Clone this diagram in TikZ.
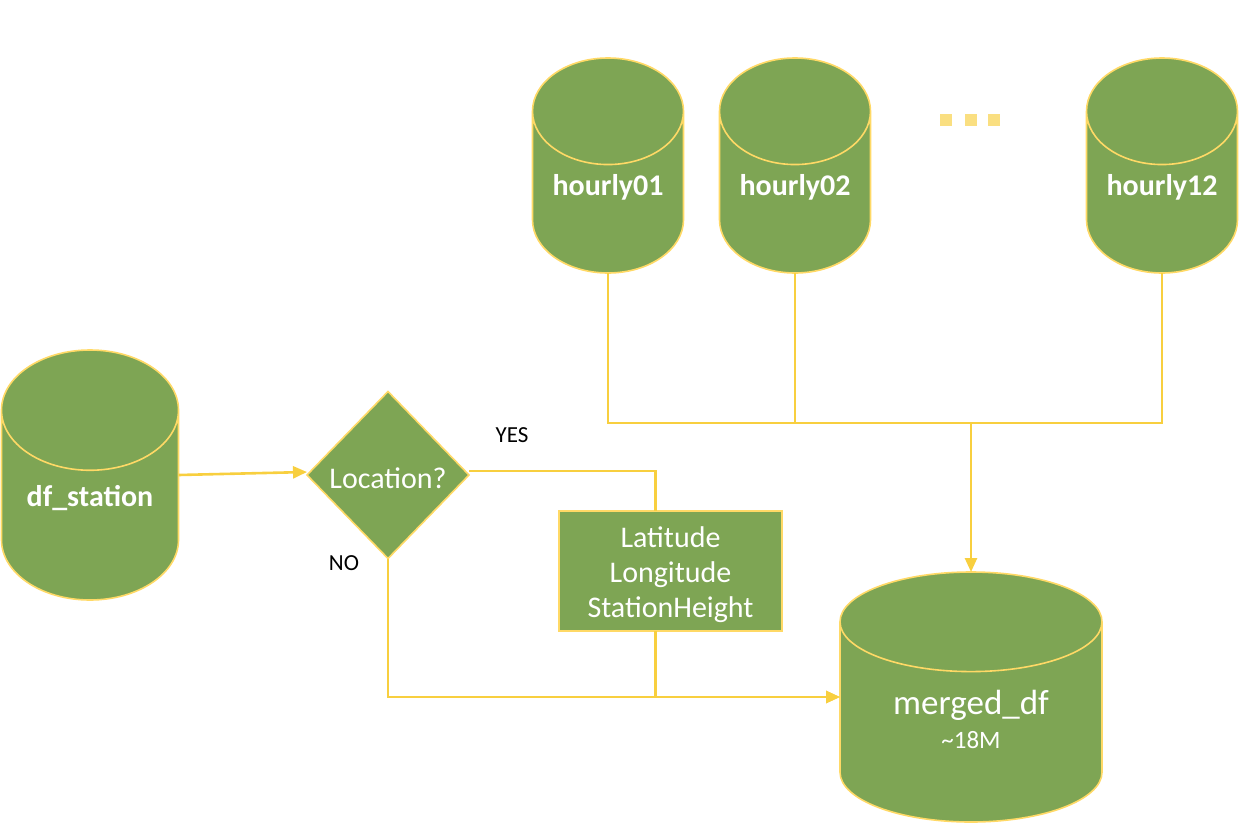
\documentclass[tikz,border=0pt]{standalone}
\usepackage{fontspec}
\setmainfont{Carlito}
\usepackage{xcolor}
\usetikzlibrary{arrows.meta, shapes.geometric, positioning}

\definecolor{dbgreen}{HTML}{7EA554}
\definecolor{dbedge}{HTML}{FFD966}
\definecolor{wire}{HTML}{F8CF3F}
\definecolor{dotfill}{HTML}{FADF81}

% lift or drop a cell's text inside its shape, keeping its size
\newcommand{\nudge}[2]{\raisebox{#1}[\height][\depth]{\begin{tabular}{@{}c@{}}#2\end{tabular}}}

\begin{document}
\begin{tikzpicture}[
  x=1pt, y=-1pt,
  db/.style = {
    cylinder, shape border rotate=90, anchor=shape center,
    draw=dbedge, fill=dbgreen, line width=1.6pt,
    text=white, inner sep=0pt, outer sep=0pt,
    font=\fontsize{30}{35}\selectfont\bfseries
  },
  hourly/.style = {db, minimum width=151pt, minimum height=215pt, aspect=0.96},
  decision/.style = {
    diamond, draw=dbedge, fill=dbgreen, line width=1.6pt,
    minimum width=162pt, minimum height=167pt, inner sep=0pt, outer sep=0pt,
    text=white, font=\fontsize{30}{34}\selectfont
  },
  attrbox/.style = {
    rectangle, draw=dbedge, fill=dbgreen, line width=1.6pt,
    minimum width=223pt, minimum height=120pt, inner sep=0pt, outer sep=0pt,
    text=white, font=\fontsize{30}{35}\selectfont
  },
  lbl/.style = {font=\fontsize{23}{25}\selectfont, text=black},
  dotsq/.style = {rectangle, fill=dotfill, minimum size=12pt, inner sep=0pt},
  line/.style = {draw=wire, line width=2.6pt},
  arr/.style = {line, -{Triangle[length=14pt,width=12pt]}}
]
\useasboundingbox (0,0) rectangle (1239,822);

% Hourly tables
\node[hourly] (h01) at (608,165.5) {\nudge{4pt}{hourly01}};
\node[hourly] (h02) at (795,165.5) {\nudge{4pt}{hourly02}};
\node[hourly] (h12) at (1162,165.5) {\nudge{4pt}{hourly12}};
\foreach \x [count=\i] in {946,971,994}
  \node[dotsq] (dot\i) at (\x,120) {};

% Station table and decision
\node[db, minimum width=177pt, minimum height=250pt, aspect=0.95]
  (station) at (90,475) {\nudge{6pt}{df\_station}};
\node[decision] (loc) at (388,475) {\nudge{-7pt}{Location?}};
\node[attrbox] (attrs) at (670.5,571)
  {\nudge{-4pt}{Latitude\\Longitude\\StationHeight}};

% Merged table
\node[db, minimum width=262pt, minimum height=250pt, aspect=0.64,
      font=\fontsize{35}{37}\selectfont] (merged) at (971,697)
  {\nudge{-2pt}{merged\_df\\[-3pt]{\fontsize{25}{26}\selectfont\textasciitilde 18M}}};

% Labels
\node[lbl] (yes) at (512,435) {YES};
\node[lbl] (no)  at (344,563) {NO};

% Hourly bus into merged
\coordinate (bus) at (971,423);
\draw[line] (h01.south) -- (h01.south |- bus) -- (h12.south |- bus) -- (h12.south);
\draw[line] (h02.south) -- (h02.south |- bus);
\draw[arr] (bus) -- (merged.north);

% Station through the decision
\draw[arr] (station.shape center -| station.east) -- ([yshift=3pt]loc.west);
\coordinate (yesdrop) at ([xshift=-15pt]attrs.north);
\draw[line] ([yshift=4pt]loc.east) -| (yesdrop);
\coordinate (mergein) at (merged.shape center -| merged.west);
\draw[arr] ([xshift=-15pt]attrs.south) |- (mergein);
\draw[arr] (loc.south) |- (mergein);
\end{tikzpicture}
\end{document}
